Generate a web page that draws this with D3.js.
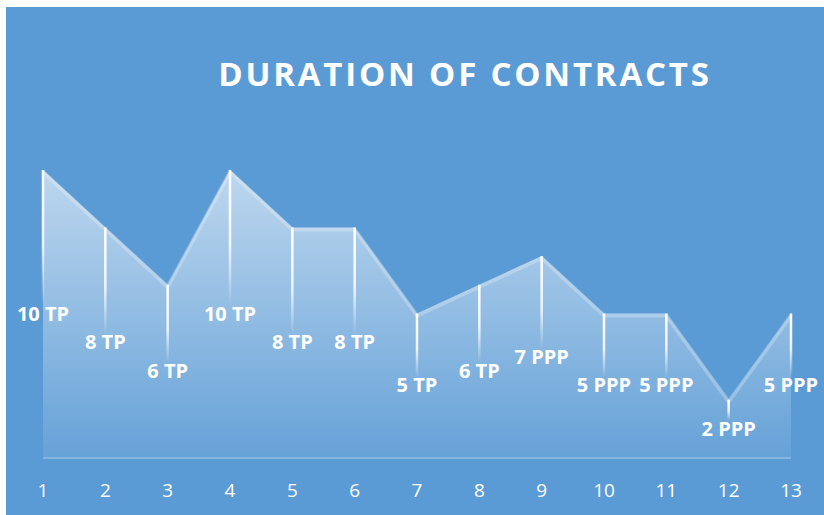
<!DOCTYPE html>
<html>
<head>
<meta charset="utf-8">
<script src="https://cdn.jsdelivr.net/npm/d3@7"></script>
<style>
  html, body { margin: 0; padding: 0; background: #fff; }
  svg { display: block; }
</style>
</head>
<body>
<svg id="chart" width="824" height="515"></svg>
<script>
// contract numbers along the bottom
var months = [1, 2, 3, 4, 5, 6, 7, 8, 9, 10, 11, 12, 13]
// duration in years
var durations = [10, 8, 6, 10, 8, 8, 5, 6, 7, 5, 5, 2, 5]
// contract type shown after the number
var kinds = ["TP", "TP", "TP", "TP", "TP", "TP", "TP", "TP", "PPP", "PPP", "PPP", "PPP", "PPP"]

var svg = d3.select("#chart"),
    width = +svg.attr("width"),
    height = +svg.attr("height");

var font = "'Open Sans', 'DejaVu Sans', sans-serif";

svg.append("rect")
    .attr("x", 6).attr("y", 7)
    .attr("width", width - 6).attr("height", height - 7)
    .attr("fill", "#5B9BD5");

var x = d3.scaleLinear().domain([1, 13]).range([43, 791]);
var y = d3.scaleLinear().domain([0, 10]).range([457, 170]);

var data = months.map(function(m, i) {
  return {m: m, v: durations[i], k: kinds[i]};
});

var defs = svg.append("defs");

var areaGrad = defs.append("linearGradient")
    .attr("id", "areaGrad")
    .attr("gradientUnits", "userSpaceOnUse")
    .attr("x1", 0).attr("x2", 0)
    .attr("y1", y(10)).attr("y2", y(0));
areaGrad.append("stop").attr("offset", "0%").attr("stop-color", "#fff").attr("stop-opacity", 0.6);
areaGrad.append("stop").attr("offset", "100%").attr("stop-color", "#fff").attr("stop-opacity", 0.07);

var dropGrad = defs.append("linearGradient")
    .attr("id", "dropGrad")
    .attr("x1", 0).attr("x2", 0).attr("y1", 0).attr("y2", 1);
dropGrad.append("stop").attr("offset", "0%").attr("stop-color", "#fff").attr("stop-opacity", 1);
dropGrad.append("stop").attr("offset", "55%").attr("stop-color", "#fff").attr("stop-opacity", 0.85);
dropGrad.append("stop").attr("offset", "100%").attr("stop-color", "#fff").attr("stop-opacity", 0);

// title
svg.append("text")
    .attr("x", 465).attr("y", 86)
    .attr("text-anchor", "middle")
    .attr("fill", "#fff")
    .style("font-family", font)
    .style("font-weight", "bold")
    .style("font-size", "33px")
    .style("letter-spacing", "2.8px")
    .text("DURATION OF CONTRACTS");

var area = d3.area()
    .x(function(d) { return x(d.m); })
    .y0(y(0))
    .y1(function(d) { return y(d.v); });

var line = d3.line()
    .x(function(d) { return x(d.m); })
    .y(function(d) { return y(d.v) + 2; });

svg.append("path")
    .datum(data)
    .attr("d", area)
    .attr("fill", "url(#areaGrad)");

// soft highlight along the top edge
svg.append("path")
    .datum(data)
    .attr("d", line)
    .attr("fill", "none")
    .attr("stroke", "#fff")
    .attr("stroke-opacity", 0.25)
    .attr("stroke-width", 4);

// baseline
svg.append("line")
    .attr("x1", x(1)).attr("x2", x(13))
    .attr("y1", y(0) + 1).attr("y2", y(0) + 1)
    .attr("stroke", "#fff")
    .attr("stroke-opacity", 0.25)
    .attr("stroke-width", 2);

// drop lines fading toward the label
svg.append("g")
  .selectAll("rect")
  .data(data)
  .enter().append("rect")
    .attr("x", function(d) { return x(d.m) - 1.25; })
    .attr("y", function(d) { return y(d.v); })
    .attr("width", 2.5)
    .attr("height", function(d) { return (y(d.v / 2) - y(d.v)) - 8; })
    .attr("fill", "url(#dropGrad)");

// value labels, halfway down each drop
svg.append("g")
  .selectAll("text")
  .data(data)
  .enter().append("text")
    .attr("x", function(d) { return x(d.m); })
    .attr("y", function(d) { return y(d.v / 2); })
    .attr("dy", "0.36em")
    .attr("text-anchor", "middle")
    .attr("fill", "#fff")
    .style("font-family", font)
    .style("font-weight", "bold")
    .style("font-size", "20px")
    .text(function(d) { return d.v + " " + d.k; });

// category ticks
svg.append("g")
  .selectAll("text")
  .data(months)
  .enter().append("text")
    .attr("x", function(d) { return x(d); })
    .attr("y", 497)
    .attr("text-anchor", "middle")
    .attr("fill", "#fff")
    .style("font-family", font)
    .style("font-size", "19px")
    .text(function(d) { return d; });
</script>
</body>
</html>
